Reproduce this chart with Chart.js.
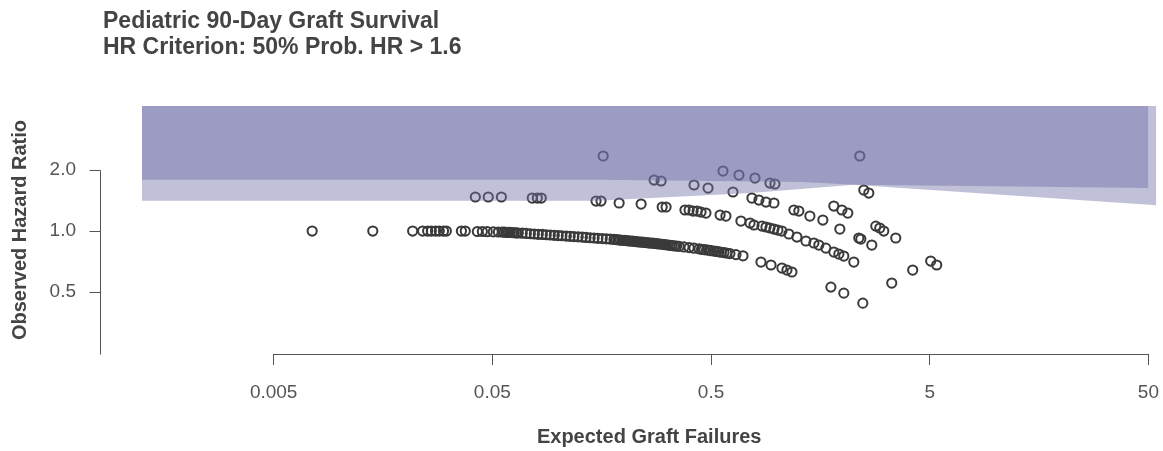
<!DOCTYPE html>
<html>
<head>
<meta charset="utf-8">
<title>Pediatric 90-Day Graft Survival</title>
<script src="https://cdn.jsdelivr.net/npm/chart.js@4.4.1/dist/chart.umd.min.js"></script>
<style>
  html, body { margin: 0; padding: 0; background: #fff; }
  canvas { display: block; }
</style>
</head>
<body>
<canvas id="hrChart" width="1163" height="451"></canvas>
<script>
const titleLines = ['Pediatric 90-Day Graft Survival', 'HR Criterion: 50% Prob. HR > 1.6'];
const xTitle = 'Expected Graft Failures';
const yTitle = 'Observed Hazard Ratio';

const xTickValues = [0.005, 0.05, 0.5, 5, 50];
const xTickLabels = ['0.005', '0.05', '0.5', '5', '50'];
const yTickValues = [0.5, 1, 2];
const yTickLabels = ['0.5', '1.0', '2.0'];

// plot region limits (log scales)
const xMin = 0.00125, xMax = 54.4;
const yMin = 0.2475, yMax = 4.138;

// shaded credible bands: lower edge of light band, lower edge of dark band
const lightEdgeE = [0.00125, 0.15, 0.76, 2.25, 54.4];
const lightEdgeHR = [1.41, 1.41, 1.54, 1.69, 1.34];
const darkEdgeE = [0.00125, 0.15, 1.3, 2.25, 50];
const darkEdgeHR = [1.79, 1.79, 1.745, 1.69, 1.63];

// centres
const row0E = [0.0075, 0.0142, 0.0216, 0.024, 0.0253, 0.0263, 0.0275, 0.0286, 0.0299, 0.0308, 0.0361, 0.0376,
  0.0427, 0.045, 0.0474, 0.0505, 0.0533, 0.0555, 0.0579, 0.0604, 0.063, 0.0657, 0.0685, 0.0715, 0.0746, 0.0778,
  0.0811, 0.0846, 0.0882, 0.092, 0.096, 0.1, 0.104, 0.109, 0.1135, 0.118, 0.1235, 0.129, 0.134, 0.14, 0.146,
  0.152, 0.159, 0.166, 0.173, 0.18, 0.188, 0.196, 0.205, 0.213, 0.2225, 0.232, 0.242, 0.2525, 0.263, 0.275,
  0.286, 0.299, 0.3115, 0.325, 0.339, 0.357, 0.376, 0.397, 0.418, 0.441, 0.4645, 0.49, 0.516, 0.544, 0.573,
  0.61, 0.65, 0.70, 0.846, 0.94, 1.055, 1.112, 1.172, 1.766, 2.024, 2.472];
const row0HR = [1, 1, 1, 1, 1, 1, 1, 1, 1, 1, 1, 1,
  0.995, 0.995, 0.993, 0.991, 0.989, 0.989, 0.986, 0.984, 0.981, 0.978, 0.976, 0.973, 0.970, 0.967,
  0.964, 0.962, 0.959, 0.956, 0.953, 0.950, 0.948, 0.945, 0.942, 0.939, 0.936, 0.933, 0.930, 0.927, 0.924,
  0.921, 0.918, 0.915, 0.912, 0.909, 0.905, 0.901, 0.897, 0.893, 0.889, 0.885, 0.881, 0.877, 0.873, 0.869,
  0.865, 0.861, 0.856, 0.851, 0.846, 0.840, 0.835, 0.829, 0.823, 0.817, 0.810, 0.804, 0.797, 0.790, 0.783,
  0.774, 0.765, 0.755, 0.703, 0.680, 0.657, 0.642, 0.628, 0.529, 0.494, 0.441];

// extra circles where the lowest row is solid in the picture
const row0DenseE = [0.0567, 0.0592, 0.0617, 0.0643, 0.1842, 0.1921, 0.2004, 0.209, 0.218, 0.227, 0.237,
  0.247, 0.258, 0.269, 0.2805, 0.2925, 0.305, 0.318, 0.332, 0.348, 0.4525, 0.477, 0.5, 0.53, 0.558, 0.59];
const row0DenseHR = [0.987, 0.985, 0.982, 0.979, 0.907, 0.903, 0.899, 0.895, 0.891, 0.887, 0.883,
  0.879, 0.875, 0.871, 0.867, 0.863, 0.858, 0.853, 0.848, 0.843, 0.813, 0.807, 0.800, 0.793, 0.786, 0.779];

const row1E = [0.0418, 0.0479, 0.055, 0.0761, 0.0803, 0.0837, 0.149, 0.157, 0.190, 0.2395, 0.299, 0.3115,
  0.380, 0.397, 0.414, 0.432, 0.450, 0.474, 0.550, 0.585, 0.685, 0.754, 0.786, 0.855, 0.892, 0.930, 0.970,
  1.011, 1.055, 1.135, 1.235, 1.358, 1.477, 1.556, 1.675, 1.822, 1.921, 2.024, 2.249];
const row1HR = [1.472, 1.472, 1.472, 1.455, 1.455, 1.455, 1.406, 1.406, 1.375, 1.359, 1.314, 1.314,
  1.270, 1.270, 1.255, 1.255, 1.241, 1.227, 1.199, 1.186, 1.120, 1.095, 1.071, 1.058, 1.047, 1.035, 1.023,
  1.011, 1.0, 0.967, 0.934, 0.893, 0.873, 0.853, 0.824, 0.788, 0.770, 0.753, 0.703];

const row2E = [0.2746, 0.2956, 0.418, 0.4845, 0.630, 0.769, 0.828, 0.892, 0.970, 1.197, 1.261, 1.416,
  1.623, 1.941, 2.37, 2.421, 2.717];
const row2HR = [1.785, 1.765, 1.687, 1.630, 1.558, 1.455, 1.422, 1.390, 1.375, 1.270, 1.255, 1.186,
  1.133, 1.023, 0.924, 0.913, 0.853];

const row3E = [0.567, 0.671, 0.794, 0.930, 0.980, 1.822, 1.982, 2.111, 2.834, 2.956, 3.083, 3.497];
const row3HR = [1.977, 1.889, 1.826, 1.725, 1.706, 1.3285, 1.270, 1.227, 1.058, 1.035, 1.0, 0.924];

const otherE = [0.1606, 2.395, 2.498, 2.633, 3.353, 4.18, 5.053, 5.382];
const otherHR = [2.345, 2.345, 1.593, 1.540, 0.554, 0.642, 0.711, 0.680];

const fontFamily = '"Liberation Sans", Arial, Helvetica, sans-serif';
const axisColor = '#555';
const bandColor = 'rgba(112,112,166,0.44)';

const toXY = (xs, ys) => xs.map((v, i) => ({ x: v, y: ys[i] }));

function pointSet(xs, ys) {
    return {
        type: 'scatter',
        data: toXY(xs, ys),
        pointRadius: 4.6,
        pointHoverRadius: 4.6,
        borderWidth: 2,
        borderColor: '#3a3a3a',
        backgroundColor: 'rgba(0,0,0,0)'
    };
}

function bandSet(xs, ys) {
    return {
        type: 'line',
        data: toXY(xs, ys),
        borderWidth: 0,
        pointRadius: 0,
        tension: 0,
        fill: 'end',
        backgroundColor: bandColor
    };
}

// R style axes: y axis pulled off the plot region, x axis only between end ticks
const rAxes = {
    id: 'rAxes',
    afterDraw(chart) {
        const { ctx, chartArea, scales: { x, y } } = chart;
        ctx.save();
        ctx.strokeStyle = axisColor;
        ctx.lineWidth = 1;
        ctx.beginPath();
        const ax = 100.5;
        ctx.moveTo(ax, Math.round(y.getPixelForValue(yTickValues[yTickValues.length - 1])) + 0.5);
        ctx.lineTo(ax, Math.round(y.getPixelForValue(yMin)) + 0.5);
        yTickValues.forEach(v => {
            const py = Math.round(y.getPixelForValue(v)) + 0.5;
            ctx.moveTo(ax - 11, py);
            ctx.lineTo(ax, py);
        });
        const by = Math.round(chartArea.bottom) + 0.5;
        ctx.moveTo(Math.round(x.getPixelForValue(xTickValues[0])), by);
        ctx.lineTo(Math.round(x.getPixelForValue(xTickValues[xTickValues.length - 1])) + 1, by);
        ctx.stroke();

        ctx.fillStyle = '#444';
        ctx.font = 'bold 23px ' + fontFamily;
        ctx.textBaseline = 'alphabetic';
        ctx.textAlign = 'left';
        ctx.fillText(titleLines[0], 103, 28);
        ctx.fillText(titleLines[1], 103, 54);
        ctx.restore();
    }
};

Chart.defaults.font.family = fontFamily;

new Chart(document.getElementById('hrChart'), {
    type: 'scatter',
    data: {
        datasets: [
            bandSet(darkEdgeE, darkEdgeHR),
            bandSet(lightEdgeE, lightEdgeHR),
            pointSet(row0E, row0HR),
            pointSet(row0DenseE, row0DenseHR),
            pointSet(row1E, row1HR),
            pointSet(row2E, row2HR),
            pointSet(row3E, row3HR),
            pointSet(otherE, otherHR)
        ]
    },
    options: {
        responsive: false,
        animation: false,
        devicePixelRatio: 1,
        layout: { padding: { top: 106, right: 5, bottom: 0, left: 0 } },
        plugins: {
            legend: { display: false },
            tooltip: { enabled: false }
        },
        scales: {
            x: {
                type: 'logarithmic',
                position: 'bottom',
                min: xMin,
                max: xMax,
                afterBuildTicks: s => { s.ticks = xTickValues.map(v => ({ value: v })); },
                afterFit: s => { s.height = 97; s.paddingLeft = 0; s.paddingRight = 0; },
                ticks: {
                    autoSkip: false,
                    maxRotation: 0,
                    color: axisColor,
                    font: { size: 19 },
                    padding: 16,
                    callback: (v, i) => xTickLabels[i]
                },
                grid: { drawOnChartArea: false, drawTicks: true, tickLength: 11, color: axisColor },
                border: { display: false },
                title: {
                    display: true,
                    text: xTitle,
                    color: '#444',
                    font: { size: 20, weight: 'bold' },
                    padding: { top: 0, bottom: 2 }
                }
            },
            y: {
                type: 'logarithmic',
                position: 'left',
                min: yMin,
                max: yMax,
                afterBuildTicks: s => { s.ticks = yTickValues.map(v => ({ value: v })); },
                afterFit: s => { s.width = 142; s.paddingTop = 0; s.paddingBottom = 0; },
                ticks: {
                    autoSkip: false,
                    color: axisColor,
                    font: { size: 19 },
                    padding: 66,
                    callback: (v, i) => yTickLabels[i]
                },
                grid: { display: false, drawTicks: false },
                border: { display: false },
                title: {
                    display: true,
                    text: yTitle,
                    color: '#444',
                    font: { size: 20, weight: 'bold' },
                    padding: { top: 8, bottom: 0 }
                }
            }
        }
    },
    plugins: [rAxes]
});
</script>
</body>
</html>
